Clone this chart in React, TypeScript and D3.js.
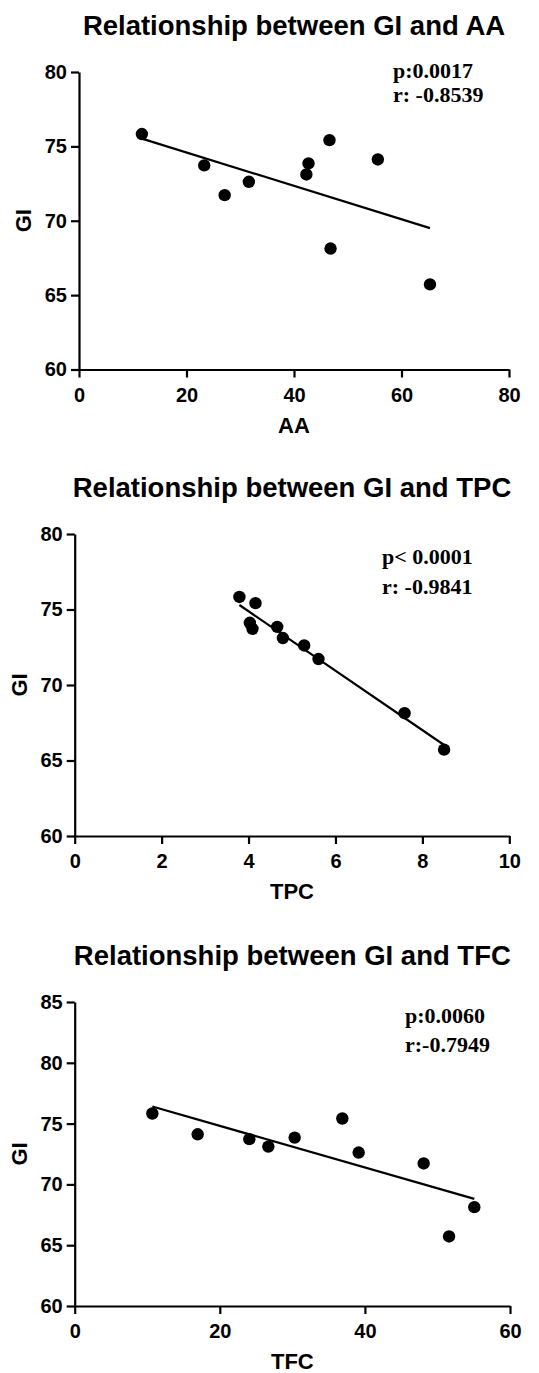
import React, { useEffect, useRef } from 'react';
import * as d3 from 'd3';

// GI of the ten samples, same order in every x array below
const giValues = [75.83, 75.42, 74.12, 73.85, 73.72, 73.11, 72.62, 71.72, 68.13, 65.72];
const aaValues = [11.7, 46.6, 55.6, 42.7, 23.3, 42.3, 31.6, 27.1, 46.8, 65.3];
const tpcValues = [3.79, 4.16, 4.03, 4.66, 4.09, 4.79, 5.28, 5.61, 7.59, 8.5];
const tfcValues = [10.7, 36.89, 16.95, 30.32, 24.07, 26.69, 39.14, 48.1, 55.08, 51.6];

const aaTicks = [0, 20, 40, 60, 80];
const tpcTicks = [0, 2, 4, 6, 8, 10];
const tfcTicks = [0, 20, 40, 60];
const giTicks = [60, 65, 70, 75, 80];
const giTicksTfc = [60, 65, 70, 75, 80, 85];

const titles = ['Relationship between GI and AA', 'Relationship between GI and TPC', 'Relationship between GI and TFC'];
const xLabels = ['AA', 'TPC', 'TFC'];
const pTexts = ['p:0.0017', 'p< 0.0001', 'p:0.0060'];
const rTexts = ['r: -0.8539', 'r: -0.9841', 'r:-0.7949'];

const SANS = '"Liberation Sans", Arial, sans-serif';
const SERIF = '"Liberation Serif", "Times New Roman", serif';

// least squares fit, drawn from min x to max x
const fitLine = (xs: number[], ys: number[]) => {
  const mx = d3.mean(xs) as number;
  const my = d3.mean(ys) as number;
  let sxy = 0, sxx = 0;
  xs.forEach((x, i) => {
    sxy += (x - mx) * (ys[i] - my);
    sxx += (x - mx) * (x - mx);
  });
  const slope = sxy / sxx;
  const [x0, x1] = d3.extent(xs) as [number, number];
  return [[x0, my + slope * (x0 - mx)], [x1, my + slope * (x1 - mx)]];
};

const panels = [
  { xs: aaValues, xTicks: aaTicks, yTicks: giTicks, left: 79, right: 509, top: 72, bottom: 369.5, titleY: 35, annX: 393, annY: 78, annGap: 24 },
  { xs: tpcValues, xTicks: tpcTicks, yTicks: giTicks, left: 74.7, right: 509.3, top: 534, bottom: 836, titleY: 497, annX: 382, annY: 564, annGap: 30 },
  { xs: tfcValues, xTicks: tfcTicks, yTicks: giTicksTfc, left: 74.7, right: 510, top: 1002, bottom: 1306, titleY: 965, annX: 405, annY: 1023, annGap: 29 },
];

const App = () => {
  const ref = useRef<SVGSVGElement>(null);

  useEffect(() => {
    const svg = d3.select(ref.current);
    svg.selectAll('*').remove();

    panels.forEach((p, k) => {
      const x = d3.scaleLinear()
        .domain([p.xTicks[0], p.xTicks[p.xTicks.length - 1]])
        .range([p.left, p.right]);
      const y = d3.scaleLinear()
        .domain([p.yTicks[0], p.yTicks[p.yTicks.length - 1]])
        .range([p.bottom, p.top]);

      const g = svg.append('g');

      // title
      g.append('text')
        .text(titles[k])
        .attr('x', (p.left + p.right) / 2)
        .attr('y', p.titleY)
        .attr('text-anchor', 'middle')
        .style('font-family', SANS)
        .style('font-weight', 'bold')
        .style('font-size', '27.5px');

      // axes
      const xAxis = d3.axisBottom(x).tickValues(p.xTicks).tickSize(8).tickSizeOuter(0).tickPadding(10);
      const yAxis = d3.axisLeft(y).tickValues(p.yTicks).tickSize(8).tickSizeOuter(0).tickPadding(4);

      const gx = g.append('g').attr('transform', `translate(0,${p.bottom})`).call(xAxis);
      const gy = g.append('g').attr('transform', `translate(${p.left},0)`).call(yAxis);
      [gx, gy].forEach(a => {
        a.selectAll('path, line').attr('stroke', '#000').attr('stroke-width', 2.2);
        a.selectAll('text')
          .attr('fill', '#000')
          .style('font-family', SANS)
          .style('font-weight', 'bold')
          .style('font-size', '20px');
      });

      // axis labels
      g.append('text')
        .text(xLabels[k])
        .attr('x', (p.left + p.right) / 2)
        .attr('y', p.bottom + 63)
        .attr('text-anchor', 'middle')
        .style('font-family', SANS)
        .style('font-weight', 'bold')
        .style('font-size', '22px');

      g.append('text')
        .text('GI')
        .attr('transform', `translate(${p.left - 48},${(p.top + p.bottom) / 2}) rotate(-90)`)
        .attr('text-anchor', 'middle')
        .style('font-family', SANS)
        .style('font-weight', 'bold')
        .style('font-size', '22px');

      // regression line
      const fit = fitLine(p.xs, giValues);
      g.append('path')
        .attr('d', d3.line<number[]>().x(d => x(d[0])).y(d => y(d[1]))(fit))
        .attr('stroke', '#000')
        .attr('stroke-width', 2.2)
        .attr('fill', 'none');

      // points
      g.selectAll('circle')
        .data(p.xs)
        .enter()
        .append('circle')
        .attr('cx', d => x(d))
        .attr('cy', (d, i) => y(giValues[i]))
        .attr('r', 6.2)
        .attr('fill', '#000');

      // p / r annotation
      [pTexts[k], rTexts[k]].forEach((t, j) => {
        g.append('text')
          .text(t)
          .attr('x', p.annX)
          .attr('y', p.annY + j * p.annGap)
          .style('font-family', SERIF)
          .style('font-weight', 'bold')
          .style('font-size', '22px');
      });
    });
  }, []);

  return (
    <svg ref={ref} width={539} height={1373}
      style={{ position: 'absolute', left: 0, top: 0, background: '#fff' }} />
  );
};

export default App;
